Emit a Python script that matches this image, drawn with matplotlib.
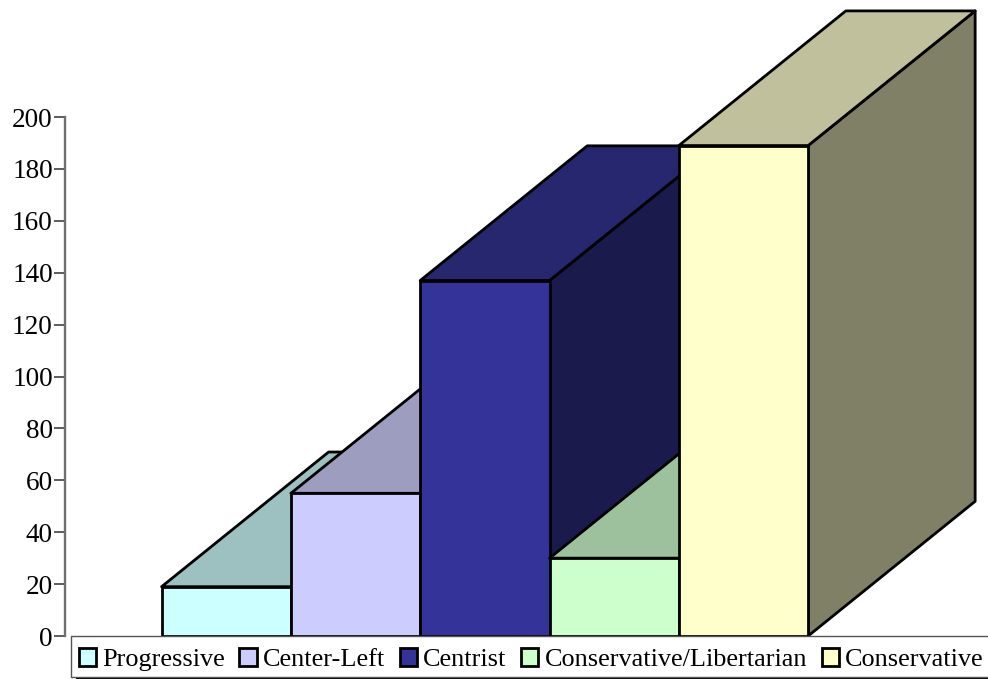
import matplotlib
matplotlib.use("Agg")
import matplotlib.pyplot as plt
from matplotlib.patches import Patch, Polygon, Rectangle

plt.rcParams['font.family'] = ['Liberation Serif', 'DejaVu Serif']

categories = ["Progressive", "Center-Left", "Centrist", "Conservative/Libertarian", "Conservative"]
values = [19, 55, 137, 30, 189]
front_colors = ["#CCFFFF", "#CCCCFF", "#333399", "#CCFFCC", "#FFFFCC"]
top_colors = ["#9DC0C0", "#9D9DC0", "#27276F", "#9DC09D", "#C0C09D"]
side_colors = ["#668080", "#666680", "#1A1A4D", "#668066", "#808066"]
y_ticks = list(range(0, 201, 20))

W, H = 988, 679
fig = plt.figure(figsize=(W / 100, H / 100), dpi=100, facecolor="white")
ax = fig.add_axes([65 / W, (H - 636) / H, (W - 65) / W, 636 / H])
ax.set_xlim(-1.247, 5.891)
ax.set_ylim(0, 245.1)
ax.patch.set_visible(False)

DX, DY = 1.2916, 51.9
LW = 2.0
for i, (v, fc, tc, sc) in enumerate(zip(values, front_colors, top_colors, side_colors)):
    z = 3 + i
    l, r = i - 0.5, i + 0.5
    ax.add_patch(Polygon([(r, 0), (r + DX, DY), (r + DX, v + DY), (r, v)], closed=True,
                         facecolor=sc, edgecolor="black", lw=LW, zorder=z, clip_on=False,
                         joinstyle="round"))
    ax.add_patch(Polygon([(l, v), (l + DX, v + DY), (r + DX, v + DY), (r, v)], closed=True,
                         facecolor=tc, edgecolor="black", lw=LW, zorder=z, clip_on=False,
                         joinstyle="round"))
    ax.bar(i, v, width=1.0, color=fc, edgecolor="black", linewidth=LW, zorder=z + 0.5, clip_on=False)

for s in ("top", "right", "bottom"):
    ax.spines[s].set_visible(False)
ax.spines["left"].set_bounds(0, 200)
ax.spines["left"].set_color("#707070")
ax.spines["left"].set_linewidth(1.7)
ax.set_xticks([])
ax.set_yticks(y_ticks)
ax.tick_params(axis="y", length=8.0, width=1.1, color="#303030", pad=0.8, labelsize=19.6, labelcolor="black")

# legend frame and its shadow (pixel rectangles converted to figure fractions)
shadow = Rectangle((76 / W, 0), (W - 76 + 10) / W, (H - 670) / H, transform=fig.transFigure,
                   facecolor="black", edgecolor="none", zorder=18, clip_on=False)
frame = Rectangle((71 / W, (H - 677) / H), (W - 71 + 10) / W, 41 / H, transform=fig.transFigure,
                  facecolor="white", edgecolor="#555555", linewidth=1.0, zorder=19, clip_on=False)
fig.add_artist(shadow)
fig.add_artist(frame)

handles = [Patch(facecolor=c, edgecolor="black", linewidth=2.0, label=n)
           for c, n in zip(front_colors, categories)]
leg = fig.legend(handles=handles, loc="lower left",
                 bbox_to_anchor=(78.5 / W, (H - 671) / H), bbox_transform=fig.transFigure,
                 ncol=5, fontsize=18.9, frameon=False, borderaxespad=0, borderpad=0,
                 handlelength=0.66, handleheight=0.66, handletextpad=0.24,
                 columnspacing=0.55, labelspacing=0)
leg.set_zorder(20)

fig.savefig("out.png", dpi=100, facecolor="white")
